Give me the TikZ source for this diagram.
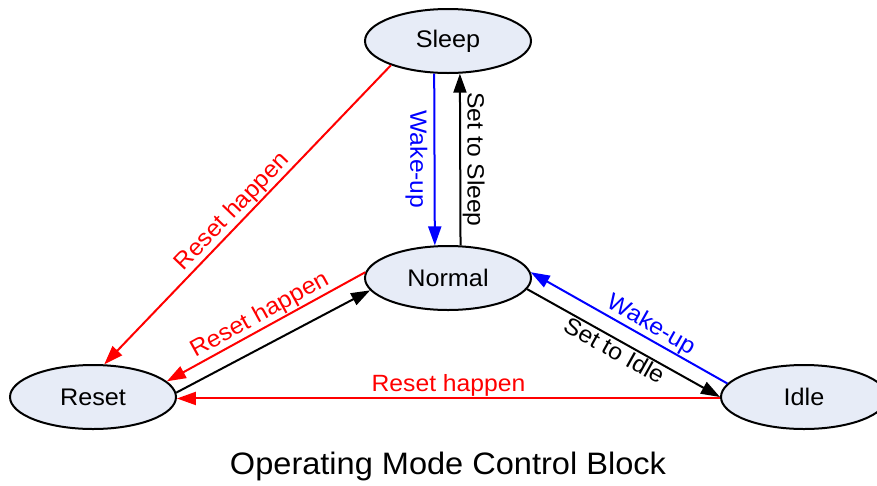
\documentclass[tikz,border=0pt]{standalone}
\usepackage{fontspec}
\setmainfont{Liberation Sans}[FakeStretch=1.05]
\usetikzlibrary{arrows.meta,shapes.geometric}
\definecolor{statefill}{RGB}{231,236,247}
\begin{document}
\begin{tikzpicture}[x=1pt,y=-1pt,
  state/.style={ellipse, draw=black, line width=2pt, fill=statefill,
    minimum width=166pt, minimum height=64pt, inner sep=0pt,
    font=\fontsize{24}{28}\selectfont},
  link/.style={line width=2pt, -{Triangle[length=19pt,width=13pt]}},
  lbl/.style={font=\fontsize{23.5}{28}\selectfont, inner sep=1pt}]
\useasboundingbox (0,0) rectangle (877,485);

% operating modes
\node[state] (sleep)  at (448,41)  {Sleep};
\node[state] (normal) at (448,278) {Normal};
\node[state] (reset)  at (93,397)  {Reset};
\node[state] (idle)   at (804,397) {Idle};

% transitions into Reset
\draw[link, red] (sleep.203) -- (reset.71)
  node[lbl, pos=0.52, above, sloped] {Reset happen};
\draw[link, red] (normal.176) -- (reset.12)
  node[lbl, midway, above, sloped] {Reset happen};
\draw[link, red] (idle.181) -- (reset.359)
  node[lbl, midway, above] {Reset happen};
\draw[link] (reset.3) -- (normal.189);

% Normal <-> Sleep
\draw[link, blue] (sleep.247.6) -- (normal.112.4)
  node[lbl, midway, rotate=-90, anchor=north, inner sep=6pt] {Wake-up};
\draw[link] (normal.69.3) -- (sleep.290.7)
  node[lbl, midway, rotate=-90, anchor=south, inner sep=1.5pt] {Set to Sleep};

% Normal <-> Idle
\draw[link, blue] (idle.170) -- (normal.4)
  node[lbl, pos=0.42, above, sloped] {Wake-up};
\draw[link] (normal.-8) -- (idle.180)
  node[lbl, pos=0.48, below, sloped] {Set to Idle};

\node[font=\fontsize{31}{36}\selectfont] (title) at (448,466)
  {Operating Mode Control Block};
\end{tikzpicture}
\end{document}
